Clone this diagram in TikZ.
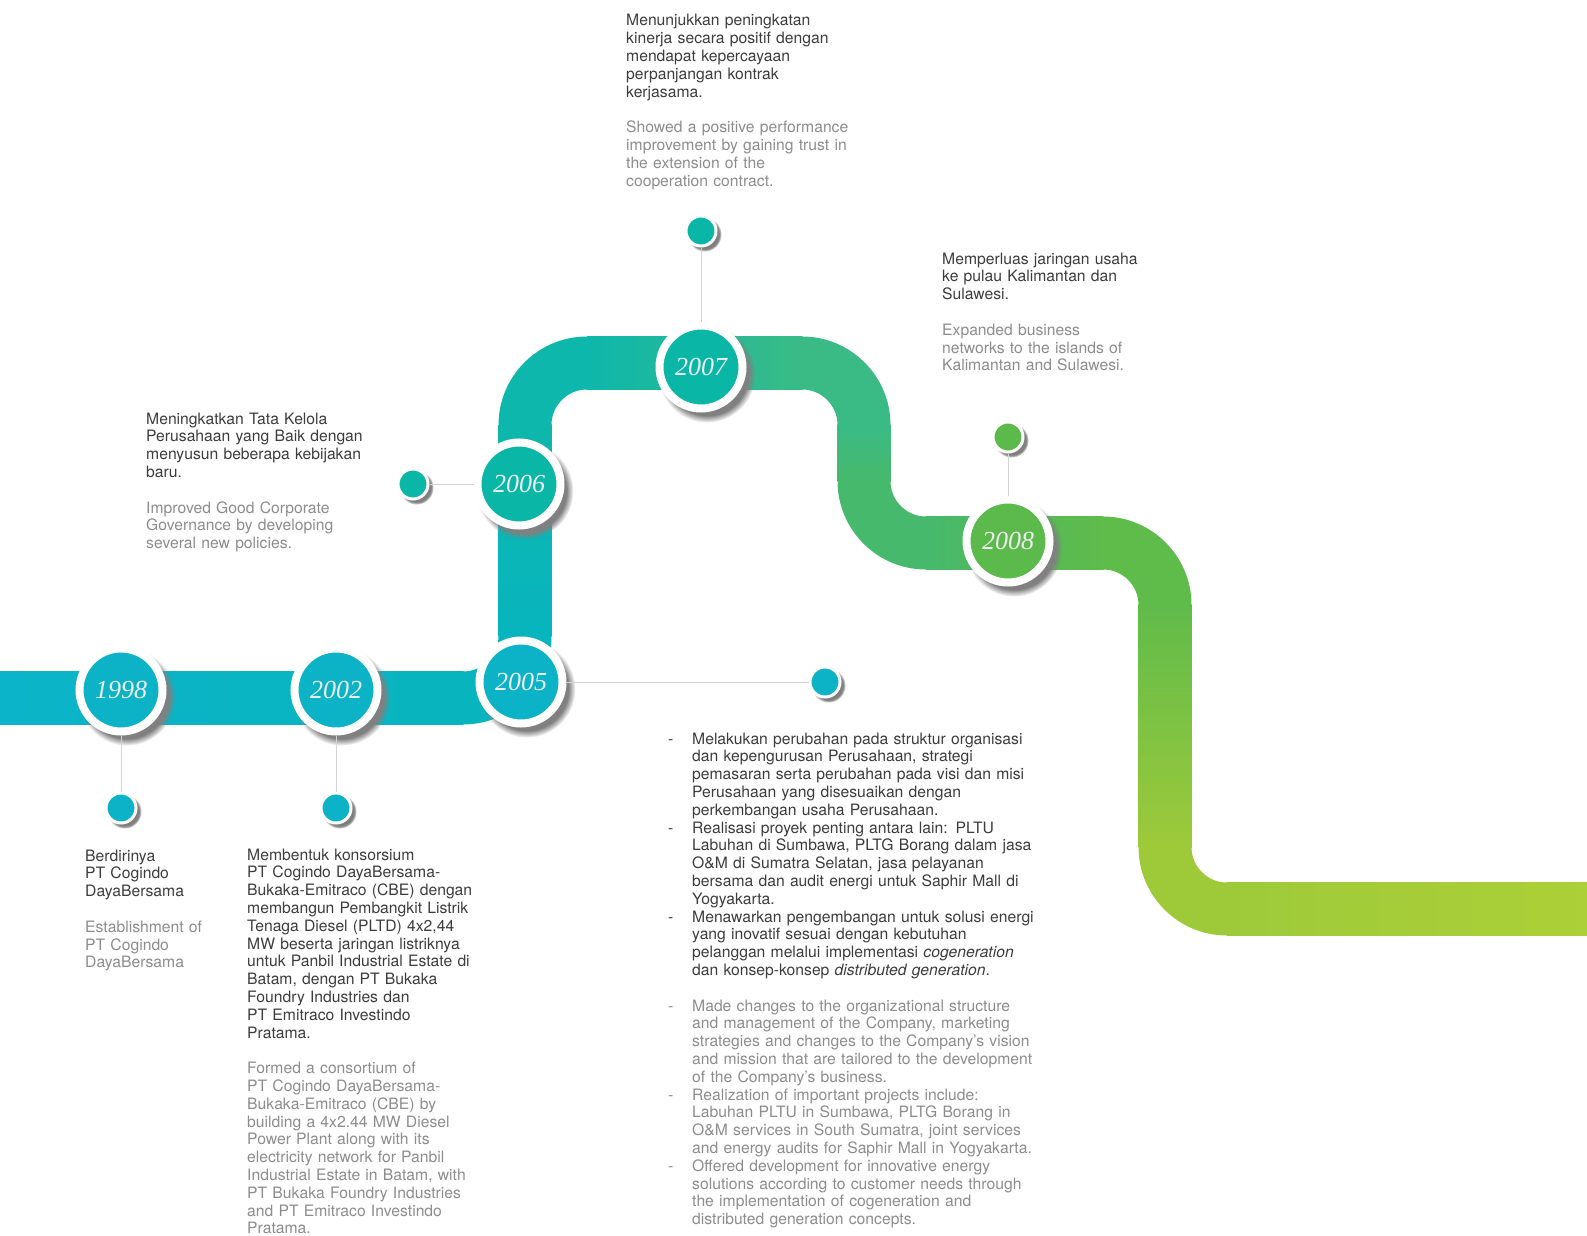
\documentclass[tikz,border=0pt]{standalone}
\usepackage{fontspec}
\setmainfont{TeX Gyre Heros}
\newfontfamily\yearfont{Liberation Serif}[UprightFont=* Italic]
\usetikzlibrary{shadows,positioning}
\definecolor{bandA}{HTML}{0BB4C8}
\definecolor{bandB}{HTML}{08B5BE}
\definecolor{bandC}{HTML}{0DB7AB}
\definecolor{bandD}{HTML}{3ABB86}
\definecolor{bandE}{HTML}{47B96C}
\definecolor{bandF}{HTML}{5FBB4A}
\definecolor{bandG}{HTML}{9ECA3A}
\definecolor{bandH}{HTML}{ACD037}
\definecolor{cyanfill}{HTML}{0CB3C6}
\definecolor{tealfill}{HTML}{0AB7A6}
\definecolor{greenfill}{HTML}{5CB94B}
\definecolor{yeartext}{HTML}{EEEEEE}
\definecolor{ink}{HTML}{3C3C3C}
\definecolor{muted}{HTML}{8C8C8C}
\definecolor{linkgray}{HTML}{D4D4D4}
\newcommand{\dashitem}{\noindent\hangindent=24pt\hangafter=1\makebox[24pt][l]{-}}
\tikzset{
  yearring/.style={circle,minimum size=83pt,inner sep=0pt,draw=white,line width=8pt,
    circular drop shadow={shadow xshift=5pt,shadow yshift=-6pt,shadow scale=1.17,opacity=1},
    text=yeartext,font=\yearfont\fontsize{26}{26}\selectfont},
  dotring/.style={circle,minimum size=30pt,inner sep=0pt,draw=white,line width=3pt,
    circular drop shadow={shadow xshift=3pt,shadow yshift=-3pt,shadow scale=1.15,opacity=1}},
  link/.style={draw=linkgray,line width=1pt},
  story/.style={anchor=base west,inner sep=0pt,align=left,text width=#1,text=ink,
    font=\fontsize{15.7}{17.8}\selectfont},
  story/.default=250pt}

\begin{document}
\begin{tikzpicture}[x=1pt,y=-1pt]
\useasboundingbox (0,0) rectangle (1587,1236);
% band
\foreach \xa/\xb/\yy/\ca/\cb in {0/463/698/bandA/bandB,587/802/363/bandC/bandD,
  926/1103/543/bandE/bandF,1227/1587/909/bandG/bandH}
  \shade[left color=\ca,right color=\cb] (\xa-.5,\yy-26.5) rectangle (\xb+.5,\yy+26.5);
\foreach \xx/\ya/\yb/\ca/\cb in {525/425/636/bandC/bandB,864/425/481/bandD/bandE,
  1165/605/847/bandF/bandG}
  \shade[top color=\ca,bottom color=\cb] (\xx-26.5,\ya-.5) rectangle (\xx+26.5,\yb+.5);
\foreach \pa/\pb/\pc/\cc in {{463,698}/{525,698}/{525,636}/bandB,{525,425}/{525,363}/{587,363}/bandC,
  {802,363}/{864,363}/{864,425}/bandD,{864,481}/{864,543}/{926,543}/bandE,
  {1103,543}/{1165,543}/{1165,605}/bandF,{1165,847}/{1165,909}/{1227,909}/bandG}
  \draw[\cc,line width=53pt,rounded corners=62pt] (\pa) -- (\pb) -- (\pc);

% years
\node[yearring,fill=cyanfill] (y1998) at (121,690) {1998};
\node[yearring,fill=cyanfill] (y2002) at (336,690) {2002};
\node[yearring,fill=cyanfill] (y2005) at (521,682) {2005};
\node[yearring,fill=tealfill] (y2006) at (519,484) {2006};
\node[yearring,fill=tealfill] (y2007) at (701,367) {2007};
\node[yearring,fill=greenfill] (y2008) at (1008,541) {2008};

\node[dotring,fill=cyanfill] (d1998) at (121,808) {};
\node[dotring,fill=cyanfill] (d2002) at (336,808) {};
\node[dotring,fill=cyanfill] (d2005) at (825,682) {};
\node[dotring,fill=tealfill] (d2006) at (413,484) {};
\node[dotring,fill=tealfill] (d2007) at (701,231) {};
\node[dotring,fill=greenfill] (d2008) at (1008,437) {};

\foreach \yr in {1998,2002,2005,2006,2007,2008}
  \draw[link] (y\yr) -- (d\yr);

% texts
\node[story] (t2007) at (626,26) {Menunjukkan peningkatan\\ kinerja secara positif dengan\\
  mendapat kepercayaan\\ perpanjangan kontrak\\ kerjasama.\\[17.8pt]
  \color{muted}Showed a positive performance\\ improvement by gaining trust in\\
  the extension of the\\ cooperation contract.};
\node[story] (t2008) at (942,264) {Memperluas jaringan usaha\\ ke pulau Kalimantan dan\\
  Sulawesi.\\[17.8pt]
  \color{muted}Expanded business\\ networks to the islands of\\ Kalimantan and Sulawesi.};
\node[story] (t2006) at (146,424) {Meningkatkan Tata Kelola\\ Perusahaan yang Baik dengan\\
  menyusun beberapa kebijakan\\ baru.\\[17.8pt]
  \color{muted}Improved Good Corporate\\ Governance by developing\\ several new policies.};
\node[story=150pt] (t1998) at (85,861) {Berdirinya\\ PT Cogindo\\ DayaBersama\\[17.8pt]
  \color{muted}Establishment of\\ PT Cogindo\\ DayaBersama};
\node[story] (t2002) at (247,860) {Membentuk konsorsium\\ PT Cogindo DayaBersama-\\
  Bukaka-Emitraco (CBE) dengan\\ membangun Pembangkit Listrik\\ Tenaga Diesel (PLTD) 4x2,44\\
  MW beserta jaringan listriknya\\ untuk Panbil Industrial Estate di\\ Batam, dengan PT Bukaka\\
  Foundry Industries dan\\ PT Emitraco Investindo\\ Pratama.\\[17.8pt]
  \color{muted}Formed a consortium of\\ PT Cogindo DayaBersama-\\ Bukaka-Emitraco (CBE) by\\
  building a 4x2.44 MW Diesel\\ Power Plant along with its\\ electricity network for Panbil\\
  Industrial Estate in Batam, with\\ PT Bukaka Foundry Industries\\ and PT Emitraco Investindo\\
  Pratama.};
\node[story=420pt] (t2005) at (668,744) {\let\\\newline
  \dashitem Melakukan perubahan pada struktur organisasi\\ dan kepengurusan Perusahaan, strategi\\
  pemasaran serta perubahan pada visi dan misi\\ Perusahaan yang disesuaikan dengan\\
  perkembangan usaha Perusahaan.\par
  \dashitem Realisasi proyek penting antara lain: PLTU\\ Labuhan di Sumbawa, PLTG Borang dalam jasa\\
  O\&M di Sumatra Selatan, jasa pelayanan\\ bersama dan audit energi untuk Saphir Mall di\\
  Yogyakarta.\par
  \dashitem Menawarkan pengembangan untuk solusi energi\\ yang inovatif sesuai dengan kebutuhan\\
  pelanggan melalui implementasi \textit{cogeneration}\\ dan konsep-konsep \textit{distributed generation}.\par
  \vspace{17.8pt}\color{muted}
  \dashitem Made changes to the organizational structure\\ and management of the Company, marketing\\
  strategies and changes to the Company's vision\\ and mission that are tailored to the development\\
  of the Company's business.\par
  \dashitem Realization of important projects include:\\ Labuhan PLTU in Sumbawa, PLTG Borang in\\
  O\&M services in South Sumatra, joint services\\ and energy audits for Saphir Mall in Yogyakarta.\par
  \dashitem Offered development for innovative energy\\ solutions according to customer needs through\\
  the implementation of cogeneration and\\ distributed generation concepts.\par};
\end{tikzpicture}
\end{document}
